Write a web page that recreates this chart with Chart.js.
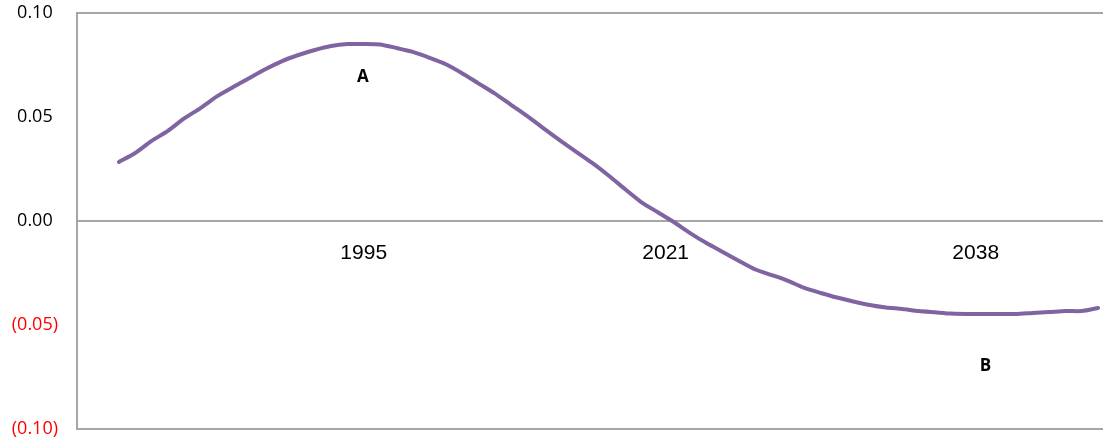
<!DOCTYPE html>
<html>
<head>
<meta charset="utf-8">
<script src="https://cdn.jsdelivr.net/npm/chart.js@4"></script>
<style>
  html, body { margin: 0; padding: 0; background: #fff; overflow: hidden; }
</style>
</head>
<body>
<canvas id="curveChart" width="1103" height="443"></canvas>
<script>
// series values, one per period (index 0..60)
const seriesValues = [
  0.0284, 0.0327, 0.0385, 0.0433, 0.0493, 0.0543, 0.0599, 0.0644, 0.0688, 0.0731,
  0.0769, 0.0798, 0.0822, 0.0841, 0.0851, 0.0851, 0.0849, 0.0832, 0.0813, 0.0786,
  0.0755, 0.0712, 0.0663, 0.0615, 0.0560, 0.0505, 0.0447, 0.0389, 0.0334, 0.0279,
  0.0219, 0.0154, 0.0091, 0.0043, -0.0005, -0.0058, -0.0106, -0.0149, -0.0192, -0.0233,
  -0.0260, -0.0288, -0.0322, -0.0346, -0.0368, -0.0387, -0.0404, -0.0416, -0.0423, -0.0433,
  -0.0439, -0.0445, -0.0447, -0.0447, -0.0447, -0.0447, -0.0442, -0.0438, -0.0433, -0.0433,
  -0.0418,
];

// category labels shown on the x axis and where they sit along the series
const yearLabels = ["1995", "2021", "2038"];
const yearLabelIdx = [15, 33.5, 52.5];

// point labels
const noteLabels = ["A", "B"];
const noteIdx = [14.95, 53.1];
const noteValues = [0.0692, -0.0697];

const yTicks = [0.1, 0.05, 0, -0.05, -0.1];

const frameGrey = "#a6a6a6";

function formatTick(v) {
  const r = Math.round(v * 100) / 100;
  if (r < 0) return "(" + Math.abs(r).toFixed(2) + ")";
  return r.toFixed(2);
}

const notesPlugin = {
  id: "notes",
  afterDatasetsDraw(chart) {
    const { ctx, scales } = chart;
    ctx.save();
    ctx.font = "bold 17px 'Open Sans'";
    ctx.fillStyle = "#000";
    ctx.textAlign = "center";
    ctx.textBaseline = "middle";
    noteLabels.forEach((t, i) => {
      ctx.fillText(t, scales.x.getPixelForValue(noteIdx[i]), scales.y.getPixelForValue(noteValues[i]));
    });
    ctx.restore();
  },
};

new Chart("curveChart", {
  type: "line",
  data: {
    datasets: [
      {
        data: seriesValues.map((v, i) => ({ x: i, y: v })),
        borderColor: "#8064A2",
        borderWidth: 4,
        borderCapStyle: "round",
        borderJoinStyle: "round",
        pointRadius: 0,
        tension: 0.2,
      },
    ],
  },
  options: {
    responsive: false,
    animation: false,
    layout: { padding: { top: 13, bottom: 14, left: 0, right: 0 } },
    plugins: {
      legend: { display: false },
      tooltip: { enabled: false },
    },
    scales: {
      x: {
        type: "linear",
        position: { y: 0 },
        min: -2.57,
        max: 60.3,
        afterBuildTicks: (scale) => {
          scale.ticks = yearLabelIdx.map((v) => ({ value: v }));
        },
        grid: { display: false },
        border: { display: true, color: frameGrey, width: 2 },
        ticks: {
          autoSkip: false,
          maxRotation: 0,
          padding: 12,
          color: "#000",
          font: { family: "Liberation Sans", size: 21 },
          callback: (value, index) => yearLabels[index],
        },
      },
      y: {
        min: -0.1,
        max: 0.1,
        afterBuildTicks: (scale) => {
          scale.ticks = yTicks.map((v) => ({ value: v }));
        },
        afterFit: (scale) => {
          scale.width = 77;
          scale.paddingTop = 0;
          scale.paddingBottom = 0;
        },
        grid: {
          drawTicks: false,
          lineWidth: 2,
          color: (c) => (Math.abs(Math.abs(c.tick.value) - 0.1) < 1e-9 ? frameGrey : "rgba(0,0,0,0)"),
        },
        border: { display: true, color: frameGrey, width: 2 },
        ticks: {
          crossAlign: "center",
          padding: 19,
          font: { family: "Open Sans", size: 18 },
          color: (c) => (c.tick.value < 0 ? "#ff0000" : "#000000"),
          callback: (v) => formatTick(v),
        },
      },
    },
  },
  plugins: [notesPlugin],
});
</script>
</body>
</html>
